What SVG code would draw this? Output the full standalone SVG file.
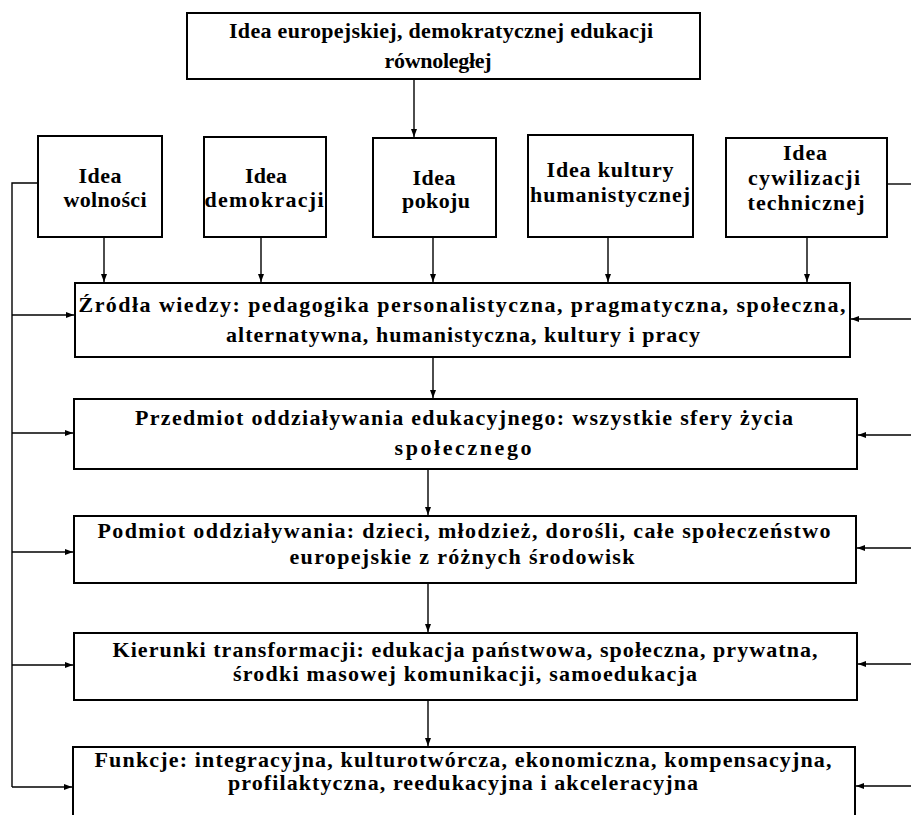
<svg xmlns="http://www.w3.org/2000/svg" width="911" height="815" viewBox="0 0 911 815">
<defs>
<marker id="ah" markerWidth="8" markerHeight="6" refX="8" refY="3" orient="auto" markerUnits="userSpaceOnUse">
<path d="M0,0 L8,3 L0,6 z" fill="#000"/>
</marker>
<style>
.box{fill:#fff;stroke:#000;stroke-width:2}
.t{font-family:"Liberation Serif","DejaVu Serif",serif;font-weight:bold;font-size:22px;fill:#000;text-anchor:middle}
.c{fill:none;stroke:#000;stroke-width:1.4;marker-end:url(#ah)}
.l{fill:none;stroke:#000;stroke-width:1.4}
</style>
</defs>
<rect width="911" height="815" fill="#fff"/>

<g id="connectors">
<path class="c" d="M414,79 V137"/>
<path class="c" d="M104,237 V282"/>
<path class="c" d="M261,237 V282"/>
<path class="c" d="M433,237 V282"/>
<path class="c" d="M608,237 V282"/>
<path class="c" d="M807,237 V282"/>
<path class="c" d="M433,357 V398"/>
<path class="c" d="M428,469 V515"/>
<path class="c" d="M428,583 V632"/>
<path class="c" d="M428,700 V746"/>
<path class="l" d="M38,183 H12 V787"/>
<path class="c" d="M12,315 H74"/>
<path class="c" d="M12,433 H73"/>
<path class="c" d="M12,552 H73"/>
<path class="c" d="M12,665 H73"/>
<path class="c" d="M12,787 H72"/>
<path class="l" d="M887,184 H911"/>
<path class="c" d="M911,319 H851"/>
<path class="c" d="M911,435 H858"/>
<path class="c" d="M911,548 H857"/>
<path class="c" d="M911,664 H858"/>
<path class="c" d="M911,786 H856"/>
</g>

<g id="top">
<rect class="box" x="187" y="13" width="513" height="66"/>
<text class="t" x="441" y="38" textLength="424" lengthAdjust="spacing">Idea europejskiej, demokratycznej edukacji</text>
<text class="t" x="438" y="68" textLength="107" lengthAdjust="spacing">równoległej</text>
</g>

<g id="wolnosci">
<rect class="box" x="38" y="136" width="124" height="101"/>
<text class="t" x="100" y="183" textLength="43" lengthAdjust="spacing">Idea</text>
<text class="t" x="105" y="207" textLength="83" lengthAdjust="spacing">wolności</text>
</g>

<g id="demokracji">
<rect class="box" x="204" y="137" width="122" height="100"/>
<text class="t" x="266" y="183" textLength="42" lengthAdjust="spacing">Idea</text>
<text class="t" x="264" y="207" textLength="119" lengthAdjust="spacing">demokracji</text>
</g>

<g id="pokoju">
<rect class="box" x="373" y="138" width="123" height="99"/>
<text class="t" x="434" y="185" textLength="43" lengthAdjust="spacing">Idea</text>
<text class="t" x="436" y="208" textLength="68" lengthAdjust="spacing">pokoju</text>
</g>

<g id="kultury">
<rect class="box" x="528" y="135" width="165" height="102"/>
<text class="t" x="610" y="177" textLength="127" lengthAdjust="spacing">Idea kultury</text>
<text class="t" x="610" y="202" textLength="160" lengthAdjust="spacing">humanistycznej</text>
</g>

<g id="cywilizacji">
<rect class="box" x="726" y="138" width="161" height="99"/>
<text class="t" x="805" y="160" textLength="44" lengthAdjust="spacing">Idea</text>
<text class="t" x="804" y="185" textLength="112" lengthAdjust="spacing">cywilizacji</text>
<text class="t" x="806" y="210" textLength="117" lengthAdjust="spacing">technicznej</text>
</g>

<g id="zrodla">
<rect class="box" x="75" y="283" width="775" height="74"/>
<text class="t" x="462" y="312" textLength="767" lengthAdjust="spacing">Źródła wiedzy: pedagogika personalistyczna, pragmatyczna, społeczna,</text>
<text class="t" x="463" y="342" textLength="474" lengthAdjust="spacing">alternatywna, humanistyczna, kultury i pracy</text>
</g>

<g id="przedmiot">
<rect class="box" x="74" y="399" width="783" height="70"/>
<text class="t" x="464" y="425" textLength="658" lengthAdjust="spacing">Przedmiot oddziaływania edukacyjnego: wszystkie sfery życia</text>
<text class="t" x="463" y="455" textLength="137" lengthAdjust="spacing">społecznego</text>
</g>

<g id="podmiot">
<rect class="box" x="74" y="516" width="782" height="67"/>
<text class="t" x="464" y="538" textLength="733" lengthAdjust="spacing">Podmiot oddziaływania: dzieci, młodzież, dorośli, całe społeczeństwo</text>
<text class="t" x="462" y="564" textLength="345" lengthAdjust="spacing">europejskie z różnych środowisk</text>
</g>

<g id="kierunki">
<rect class="box" x="74" y="633" width="783" height="67"/>
<text class="t" x="465" y="657" textLength="705" lengthAdjust="spacing">Kierunki transformacji: edukacja państwowa, społeczna, prywatna,</text>
<text class="t" x="465" y="681" textLength="464" lengthAdjust="spacing">środki masowej komunikacji, samoedukacja</text>
</g>

<g id="funkcje">
<rect class="box" x="73" y="747" width="782" height="90"/>
<text class="t" x="463" y="767" textLength="737" lengthAdjust="spacing">Funkcje: integracyjna, kulturotwórcza, ekonomiczna, kompensacyjna,</text>
<text class="t" x="463" y="790" textLength="470" lengthAdjust="spacing">profilaktyczna, reedukacyjna i akceleracyjna</text>
</g>
</svg>
